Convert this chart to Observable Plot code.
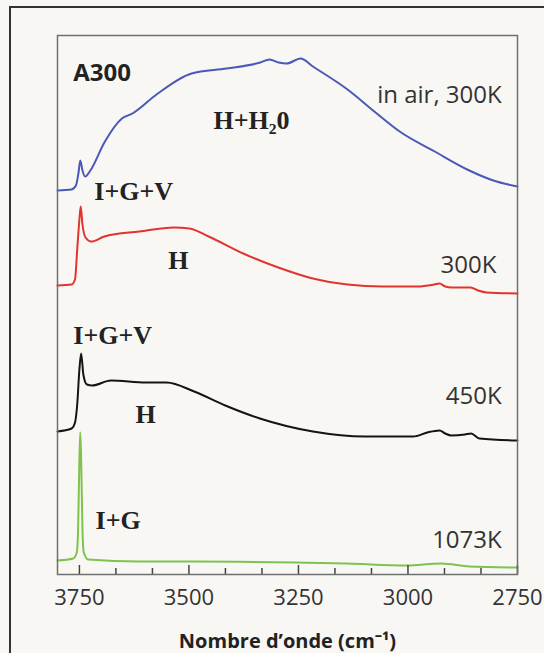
<!DOCTYPE html>
<html>
<head>
<meta charset="utf-8">
<script src="https://cdn.jsdelivr.net/npm/d3@7"></script>
<script src="https://cdn.jsdelivr.net/npm/@observablehq/plot@0.6"></script>
<style>
  html, body { margin: 0; padding: 0; background: #f9f7f3; }
  #wrap { position: relative; width: 544px; height: 653px; overflow: hidden; }
  #border { position: absolute; left: 9px; top: 6px; width: 600px; height: 700px;
            border-left: 2px solid #333; border-top: 2px solid #333; }
  #chart { position: absolute; left: 0; top: 0; }
</style>
</head>
<body>
<div id="wrap"><div id="border"></div><div id="chart"></div></div>
<script>
// Wavenumbers (cm-1) and stacked intensities (a.u., offsets included)
const blueWn = [3800,3768,3758,3752,3748,3743,3737,3725,3693,3653,3629,3574,3494,3414,3337,3316,3295,3277,3245,3217,3138,3074,3019,2939,2860,2805,2750];
const blueI  = [384,385,389,402,414,404,398,404,432,456,461,480,501,506,512,515,512,511,516,508,485,462,443,423,404,394,388];

const redWn = [3800,3768,3760,3755,3750,3747,3743,3736,3723,3693,3613,3534,3499,3455,3376,3296,3217,3138,3058,2978,2940,2928,2915,2901,2857,2840,2821,2750];
const redI  = [289,290,295,325,355,368,350,337,333,338,343,347,346,338,321,307,296,290,288,288,290,291,288,287,287,284,282,281];

const blackWn = [3800,3768,3760,3755,3750,3746,3741,3733,3721,3678,3598,3551,3488,3417,3338,3217,3098,2988,2956,2928,2915,2901,2870,2856,2837,2750];
const blackI  = [143,146,152,170,205,221,200,190,189,194,192,192,183,169,156,143,138,138,142,144,141,139,140,141,136,134];

const greenWn = [3800,3764,3756,3753,3750,3748,3746,3743,3740,3730,3613,3494,3256,3138,3004,2924,2860,2750];
const greenI  = [14,16,22,45,115,142,115,45,22,15,13,13,12,11,9,11,8,7];

const majorTicks = [3750,3500,3250,3000,2750];
const minorTicks = [3666.7,3583.3,3416.7,3333.3,3166.7,3083.3,2916.7,2833.3];

const xLabel = "Nombre d\u2019onde (cm\u207B\u00B9)";

// annotation labels: [text, wavenumber, intensity]
const sansLabels = [
  {t: "in air, 300K", x: 2786, y: 472},
  {t: "300K", x: 2798, y: 302},
  {t: "450K", x: 2786, y: 171},
  {t: "1073K", x: 2786, y: 27}
];
const serifLabels = [
  {t: "H+H\u20820", x: 3444, y: 446},
  {t: "I+G+V", x: 3716, y: 375},
  {t: "H", x: 3547, y: 306},
  {t: "I+G+V", x: 3764, y: 231},
  {t: "H", x: 3622, y: 152},
  {t: "I+G", x: 3713, y: 46}
];
const titleLabel = [{t: "A300", x: 3764, y: 494}];

const toRows = (wn, v) => wn.map((w, i) => ({wn: w, v: v[i]}));
const series = [
  {rows: toRows(blueWn, blueI), color: "#4a58b8"},
  {rows: toRows(redWn, redI), color: "#e2342f"},
  {rows: toRows(blackWn, blackI), color: "#141414"},
  {rows: toRows(greenWn, greenI), color: "#7fc24e"}
];

const chart = Plot.plot({
  width: 544,
  height: 653,
  marginLeft: 57,
  marginRight: 27,
  marginTop: 35,
  marginBottom: 79,
  style: {background: "transparent", fontFamily: "Open Sans, sans-serif", color: "#333"},
  x: {domain: [3800, 2750]},
  y: {domain: [0, 539], axis: null},
  marks: [
    ...series.map(s => Plot.line(s.rows, {x: "wn", y: "v", stroke: s.color, strokeWidth: 2, curve: "monotone-x"})),
    Plot.ruleX(majorTicks, {stroke: "#444", strokeWidth: 1.5, insetTop: 530}),
    Plot.ruleX(minorTicks, {stroke: "#444", strokeWidth: 1.5, insetTop: 533}),
    Plot.frame({stroke: "#6f6f6f", strokeWidth: 1.5}),
    Plot.axisX({ticks: majorTicks, tickSize: 0, tickPadding: 15, fontSize: 22, label: null, tickFormat: d => String(d), fill: "#333"}),
    Plot.text(titleLabel, {x: "x", y: "y", text: "t", textAnchor: "start", lineAnchor: "bottom", fontSize: 24, fontWeight: "bold", fill: "#222"}),
    Plot.text(sansLabels, {x: "x", y: "y", text: "t", textAnchor: "end", lineAnchor: "bottom", fontSize: 24, fill: "#333"}),
    Plot.text(serifLabels, {x: "x", y: "y", text: "t", textAnchor: "start", lineAnchor: "bottom", fontSize: 26, fontWeight: "bold", fontFamily: "Liberation Serif, serif", fill: "#222"}),
    Plot.text([xLabel], {frameAnchor: "bottom", text: d => d, dy: 73, lineAnchor: "bottom", fontSize: 20, fontWeight: "bold", fill: "#222"})
  ]
});
document.getElementById("chart").appendChild(chart);
</script>
</body>
</html>
